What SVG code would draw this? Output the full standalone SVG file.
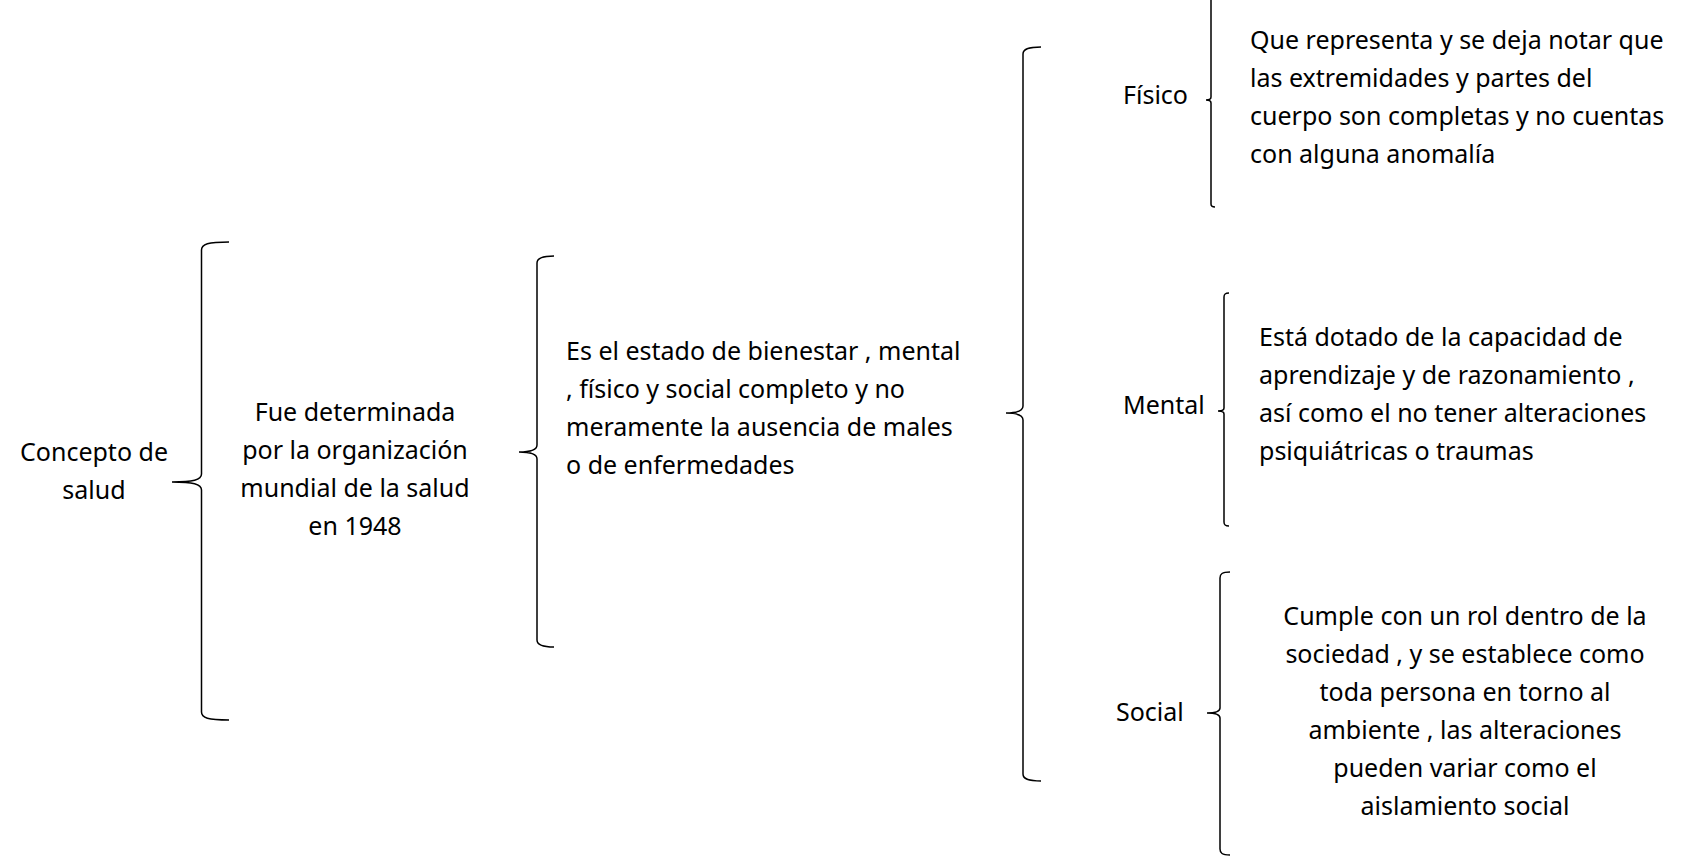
<svg xmlns="http://www.w3.org/2000/svg" width="1693" height="859" viewBox="0 0 1693 859">
<style>
text{font-family:"Noto Sans","Open Sans","Liberation Sans",sans-serif;font-size:25px;fill:#000}
.c{text-anchor:middle}
.b{fill:none;stroke:#000;stroke-width:1.5}
</style>
<rect width="1693" height="859" fill="#fff"/>
<g id="connectors">
<path class="b" d="M229,242 C208,242 201.5,244 201.5,250 V474 C201.5,480 193,482 172,482 C193,482 201.5,484 201.5,490 V712 C201.5,718 208,720 229,720"/>
<path class="b" d="M554,256 C542,256 537,258 537,263 V445 C537,450 531,452 519,452 C531,452 537,454 537,459 V640 C537,645 542,647 554,647"/>
<path class="b" d="M1041,47 C1028,47 1023,49 1023,54 V406 C1023,411 1017,413 1006,413 C1017,413 1023,415 1023,420 V774 C1023,779 1028,781 1041,781"/>
<path class="b" d="M1215,-8 C1212,-8 1211,-7 1211,-4 V97 C1211,99 1209,100 1206,100 C1209,100 1211,101 1211,103 V204 C1211,206 1212,207 1215,207"/>
<path class="b" d="M1229,293 C1225,293 1224,294 1224,297 V408 C1224,410 1222,411 1218,411 C1222,411 1224,412 1224,414 V522 C1224,525 1225,526 1229,526"/>
<path class="b" d="M1230,572 C1222,572 1220,574 1220,578 V708 C1220,712 1215,713 1207,713 C1215,713 1220,714 1220,718 V849 C1220,853 1222,855 1230,855"/>
</g>
<g id="concepto">
<text class="c" x="94" y="461">Concepto de</text>
<text class="c" x="94" y="499">salud</text>
</g>
<g id="fue">
<text class="c" x="355" y="421">Fue determinada</text>
<text class="c" x="355" y="459">por la organización</text>
<text class="c" x="355" y="497">mundial de la salud</text>
<text class="c" x="355" y="535">en 1948</text>
</g>
<g id="definicion">
<text x="566" y="360">Es el estado de bienestar , mental</text>
<text x="566" y="398">, físico y social completo y no</text>
<text x="566" y="436">meramente la ausencia de males</text>
<text x="566" y="474">o de enfermedades</text>
</g>
<g id="fisico">
<text x="1123" y="104">Físico</text>
</g>
<g id="fisico-desc">
<text x="1250" y="49">Que representa y se deja notar que</text>
<text x="1250" y="87">las extremidades y partes del</text>
<text x="1250" y="125">cuerpo son completas y no cuentas</text>
<text x="1250" y="163">con alguna anomalía</text>
</g>
<g id="mental">
<text x="1123" y="414">Mental</text>
</g>
<g id="mental-desc">
<text x="1259" y="346">Está dotado de la capacidad de</text>
<text x="1259" y="384">aprendizaje y de razonamiento ,</text>
<text x="1259" y="422">así como el no tener alteraciones</text>
<text x="1259" y="460">psiquiátricas o traumas</text>
</g>
<g id="social">
<text x="1116" y="721">Social</text>
</g>
<g id="social-desc">
<text class="c" x="1465" y="625">Cumple con un rol dentro de la</text>
<text class="c" x="1465" y="663">sociedad , y se establece como</text>
<text class="c" x="1465" y="701">toda persona en torno al</text>
<text class="c" x="1465" y="739">ambiente , las alteraciones</text>
<text class="c" x="1465" y="777">pueden variar como el</text>
<text class="c" x="1465" y="815">aislamiento social</text>
</g>
</svg>
